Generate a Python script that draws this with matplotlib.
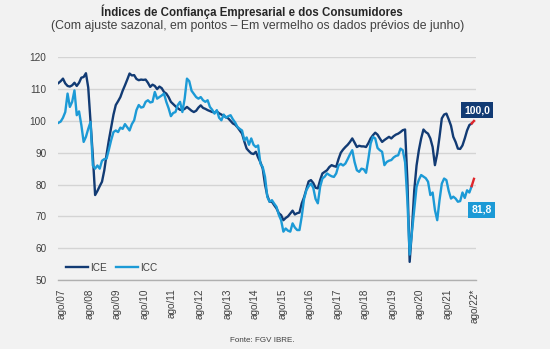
import matplotlib.pyplot as plt
import numpy as np

plt.rcParams['font.family'] = ['Liberation Sans', 'DejaVu Sans']

# Monthly indices (seasonally adjusted, points); last value is the June preview
ice = [111.9, 112.5, 113.3, 111.8, 111.0, 110.8, 111.2, 112.0, 111.0, 112.0,
       113.6, 113.8, 115.0, 110.5, 100.0, 89.0, 76.7, 78.0, 79.5, 80.9,
       84.5, 89.5, 94.0, 98.0, 102.0, 105.0, 106.2, 107.5, 109.5, 111.2,
       113.0, 114.9, 114.3, 114.4, 113.2, 112.8, 113.0, 112.9, 113.0, 112.0,
       110.7, 111.4, 111.0, 110.0, 110.8, 110.3, 109.1, 108.6, 107.5, 106.0,
       105.3, 104.6, 104.0, 103.5, 103.4, 103.8, 104.4, 103.8, 103.2, 102.8,
       103.2, 104.2, 104.9, 104.1, 103.8, 103.4, 103.1, 102.8, 102.7, 103.0,
       102.4, 102.0, 101.6, 101.2, 100.8, 100.0, 99.2, 98.8, 98.0, 97.0,
       96.0, 93.5, 91.3, 90.5, 89.8, 89.6, 90.3, 88.5, 87.0, 85.0,
       80.0, 76.5, 74.6, 74.6, 73.5, 72.5, 71.0, 70.4, 68.8, 69.5,
       70.0, 70.9, 71.8, 70.6, 71.0, 71.2, 74.1, 76.0, 78.5, 81.0,
       81.4, 80.5, 79.0, 78.8, 81.4, 83.5, 84.0, 84.5, 85.5, 86.1,
       85.8, 85.6, 88.0, 90.0, 91.0, 91.8, 92.5, 93.4, 94.5, 93.2,
       91.8, 92.2, 92.0, 92.0, 91.8, 93.0, 94.5, 95.5, 96.3, 95.7,
       94.5, 93.4, 94.0, 94.5, 95.0, 94.5, 95.2, 95.7, 96.0, 96.5,
       97.1, 97.3, 81.4, 55.7, 66.0, 78.2, 86.0, 90.8, 94.5, 97.3,
       96.5, 96.0, 94.5, 91.8, 86.1, 89.7, 95.0, 100.8, 102.0, 102.3,
       100.5, 98.5, 95.0, 93.4, 91.3, 91.2, 92.3, 94.5, 97.0, 98.7,
       99.2, 100.0]

icc = [99.4, 99.8, 101.0, 102.8, 108.6, 104.4, 106.0, 109.6, 101.8, 103.0,
       98.7, 93.4, 95.0, 97.5, 99.7, 86.0, 85.0, 86.0, 85.0, 87.5,
       88.0, 88.2, 91.0, 94.0, 96.5, 97.0, 96.5, 97.9, 97.5, 99.0,
       98.0, 97.0, 99.0, 100.2, 103.4, 105.0, 104.2, 104.4, 106.0, 106.5,
       105.8, 106.0, 109.1, 107.0, 107.5, 108.0, 108.6, 106.0, 104.0, 101.5,
       102.5, 102.8, 105.0, 106.0, 102.8, 107.0, 113.3, 112.5, 109.5, 108.5,
       107.5, 107.0, 107.5, 106.5, 106.0, 106.5, 104.4, 103.5, 102.3, 103.4,
       101.0, 100.2, 102.0, 101.0, 101.5, 101.8, 100.5, 99.5, 98.1, 97.5,
       97.0, 93.9, 94.8, 92.5, 94.5, 92.5, 91.8, 92.3, 86.6, 85.5,
       82.4, 76.1, 74.6, 75.1, 74.0, 73.0, 70.5, 68.8, 65.2, 66.2,
       65.5, 65.2, 67.8, 66.5, 65.7, 65.7, 70.0, 75.5, 78.2, 79.5,
       80.3, 79.0, 75.5, 74.1, 79.3, 81.9, 82.5, 83.5, 83.0, 82.6,
       82.4, 83.5, 86.0, 86.5, 86.0, 86.6, 88.0, 89.5, 90.8, 87.1,
       84.5, 84.0, 85.0, 84.8, 83.7, 88.0, 92.9, 95.0, 94.5, 91.5,
       90.8, 90.3, 86.1, 87.1, 87.5, 87.7, 88.5, 89.0, 89.2, 91.3,
       90.8, 87.0, 75.0, 58.0, 65.0, 72.0, 79.3, 81.5, 83.0, 82.5,
       82.0, 80.9, 76.7, 77.5, 72.0, 68.8, 75.1, 80.3, 81.9, 81.4,
       78.0, 75.6, 76.2, 75.6, 74.6, 74.8, 77.5, 75.8, 78.2, 77.5,
       79.5, 81.8]

tick_labels = ['ago/07', 'ago/08', 'ago/09', 'ago/10', 'ago/11', 'ago/12',
               'ago/13', 'ago/14', 'ago/15', 'ago/16', 'ago/17', 'ago/18',
               'ago/19', 'ago/20', 'ago/21', 'ago/22*']

ICE_COLOR = '#123b74'
ICC_COLOR = '#1c9ad6'
RED = '#e0262b'
BG = '#f2f2f2'
TXT = '#404040'

fig = plt.figure(figsize=(5.5, 3.49), dpi=100, facecolor=BG)
ax = fig.add_axes([0.1049, 0.1977, 0.7606, 0.6381])
ax.set_facecolor(BG)

x = np.arange(len(ice))
last = len(ice) - 1

ax.plot(x[:last], ice[:last], color=ICE_COLOR, lw=1.7, label='ICE',
        solid_joinstyle='round', zorder=3)
ax.plot(x[:last], icc[:last], color=ICC_COLOR, lw=1.7, label='ICC',
        solid_joinstyle='round', zorder=3)
ax.plot(x[last - 1:], ice[last - 1:], color=RED, lw=1.7, zorder=4)
ax.plot(x[last - 1:], icc[last - 1:], color=RED, lw=1.7, zorder=4)

# end-of-series value tags
ax.annotate(f"{ice[-1]:.1f}".replace('.', ','), xy=(last + 1.3, ice[-1] + 3.4),
            ha='center', va='center', fontsize=7.5, fontweight='bold',
            color='white', annotation_clip=False,
            bbox=dict(boxstyle='square,pad=0.3', fc=ICE_COLOR, ec='none'))
ax.annotate(f"{icc[-1]:.1f}".replace('.', ','), xy=(last + 3.3, icc[-1] - 9.7),
            ha='center', va='center', fontsize=7.5, fontweight='bold',
            color='white', annotation_clip=False,
            bbox=dict(boxstyle='square,pad=0.3', fc=ICC_COLOR, ec='none'))

ax.set_xlim(-0.3, 181.9)
ax.set_ylim(50, 120)
ax.set_yticks(range(50, 121, 10))
ax.yaxis.grid(True, color='#d4d4d4', lw=1.0)
ax.set_axisbelow(True)

ax.set_xticks([1.5 + 12 * k for k in range(len(tick_labels))])
ax.set_xticklabels(tick_labels, rotation=90, va='top', ha='center')

for side in ('top', 'right', 'left'):
    ax.spines[side].set_visible(False)
ax.spines['bottom'].set_color('#b0b0b0')
ax.spines['bottom'].set_linewidth(1.0)
ax.tick_params(axis='both', length=0, labelsize=7.2, labelcolor=TXT)
ax.tick_params(axis='y', pad=8)
ax.tick_params(axis='x', pad=6)

ax.legend(loc='center left', bbox_to_anchor=(0.02, 0.055), ncol=2,
          frameon=False, fontsize=7.2, handlelength=2.2, handletextpad=0.2,
          columnspacing=0.9, borderaxespad=0, borderpad=0,
          labelcolor=TXT)

fig.text(0.458, 0.965, 'Índices de Confiança Empresarial e dos Consumidores',
         ha='center', va='center', fontsize=8.3, fontweight='bold', color='#262626')
fig.text(0.469, 0.925,
         '(Com ajuste sazonal, em pontos – Em vermelho os dados prévios de junho)',
         ha='center', va='center', fontsize=8.8, color='#404040')
fig.text(0.477, 0.023, 'Fonte: FGV IBRE.', ha='center', va='center',
         fontsize=5.8, color='#404040')

fig.savefig('out.png', dpi=100, facecolor=BG)
